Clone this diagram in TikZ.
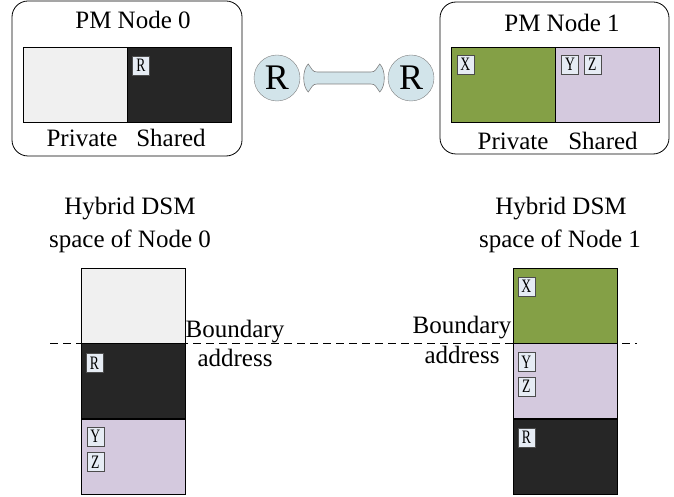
\documentclass[tikz,border=0pt]{standalone}
\usepackage{fontspec}
\setmainfont{Liberation Serif}
\newfontfamily\tagfont[FakeStretch=0.72]{Liberation Serif}
\usetikzlibrary{positioning}
\definecolor{litegray}{HTML}{F0F0F0}
\definecolor{darkblk}{HTML}{262626}
\definecolor{pmgreen}{HTML}{84A046}
\definecolor{pmlilac}{HTML}{D4C9DE}
\definecolor{tagfill}{HTML}{E6ECF4}
\definecolor{routfill}{HTML}{D2E4EA}
\newcommand*{\memtag}[3]{%
  \node [memtag, anchor=north west] (#1) at (#2) {#3};
}
\newcommand*{\lbl}[3]{%
  \node [anchor=base] (#1) at (#2) {#3};
}

\begin{document}
\begin{tikzpicture}[x=1pt, y=1pt, every node/.style={font=\fontsize{25}{32}\selectfont}]
		\tikzset{pmbox/.style={draw, rounded corners=16pt, line width=0.8pt},
			seg/.style={draw, minimum width=104pt, minimum height=75pt, inner sep=0pt, line width=0.6pt},
			memtag/.style={draw=gray!60!black, fill=tagfill, font=\tagfont\fontsize{19}{19}\selectfont,
				minimum width=17pt, minimum height=19pt, inner sep=0pt},
			router/.style={circle, draw=gray, fill=routfill, minimum size=46pt, inner sep=0pt,
				font=\fontsize{36}{36}\selectfont},
			link/.style={draw=gray, fill=routfill, line width=0.6pt}}
		\useasboundingbox (0,0) rectangle (674,496);
		\node[pmbox, minimum width=230pt, minimum height=155pt] (pm0) at (127,417.5) {};
		\lbl{pm0t}{133,467}{PM Node 0}
		\node[seg, fill=litegray] (p0priv) at (75,411.5) {};
		\node[seg, fill=darkblk, right=0pt of p0priv] (p0shr) {};
		\memtag{t0r}{[shift={(5,-9)}]p0shr.north west}{R}
		\lbl{p0pl}{82,349}{Private}
		\lbl{p0sl}{171,349}{Shared}
		\node[pmbox, minimum width=229pt, minimum height=152pt] (pm1) at (554.5,418) {};
		\lbl{pm1t}{562,464}{PM Node 1}
		\node[seg, fill=pmgreen] (p1priv) at (503,411.5) {};
		\node[seg, fill=pmlilac, right=0pt of p1priv] (p1shr) {};
		\memtag{t1x}{[shift={(6,-8)}]p1priv.north west}{X}
		\memtag{t1y}{[shift={(6,-8)}]p1shr.north west}{Y}
		\node[memtag, right=5pt of t1y] (t1z) {Z};
		\lbl{p1pl}{513,346}{Private}
		\lbl{p1sl}{603,346}{Shared}
		\node[router] (rt0) at (277,418) {R};
		\node[router] (rt1) at (411,418) {R};
		\draw[link] ([shift={(8,14)}]rt0.east) .. controls +(4,-5) and +(-5,0) .. ([shift={(17,6)}]rt0.east)
			-- ([shift={(-17,6)}]rt1.west) .. controls +(5,0) and +(-4,-5) .. ([shift={(-8,14)}]rt1.west)
			.. controls +(6,-6) and +(6,6) .. ([shift={(-8,-14)}]rt1.west)
			.. controls +(-4,5) and +(5,0) .. ([shift={(-17,-6)}]rt1.west)
			-- ([shift={(17,-6)}]rt0.east) .. controls +(-5,0) and +(4,5) .. ([shift={(8,-14)}]rt0.east)
			.. controls +(-6,6) and +(-6,-6) .. cycle;
		\lbl{h0a}{130,281}{Hybrid DSM}
		\lbl{h0b}{130,249}{space of Node 0}
		\lbl{h1a}{561,281}{Hybrid DSM}
		\lbl{h1b}{560,249}{space of Node 1}
		\coordinate (bl) at (50,153);
		\coordinate (br) at (637,153);
		\draw[dash pattern=on 8pt off 5pt, line width=0.6pt] (bl) -- (br);
		\node[seg, fill=litegray] (c0a) at (133,190.5) {};
		\node[seg, fill=darkblk, below=0pt of c0a] (c0b) {};
		\node[seg, fill=pmlilac, below=0pt of c0b] (c0c) {};
		\memtag{c0r}{[shift={(5,-10)}]c0b.north west}{R}
		\memtag{c0y}{[shift={(6,-8)}]c0c.north west}{Y}
		\node[memtag, below=6pt of c0y] (c0z) {Z};
		\node[seg, fill=pmgreen] (c1a) at (565,190.5) {};
		\node[seg, fill=pmlilac, below=0pt of c1a] (c1b) {};
		\node[seg, fill=darkblk, below=0pt of c1b] (c1c) {};
		\memtag{c1x}{[shift={(5,-9)}]c1a.north west}{X}
		\memtag{c1y}{[shift={(5,-9)}]c1b.north west}{Y}
		\node[memtag, below=5pt of c1y] (c1z) {Z};
		\memtag{c1r}{[shift={(5,-9)}]c1c.north west}{R}
		\lbl{b0a}{235,159}{Boundary}
		\lbl{b0b}{235,130}{address}
		\lbl{b1a}{462,163}{Boundary}
		\lbl{b1b}{462,133}{address}
\end{tikzpicture}
\end{document}
